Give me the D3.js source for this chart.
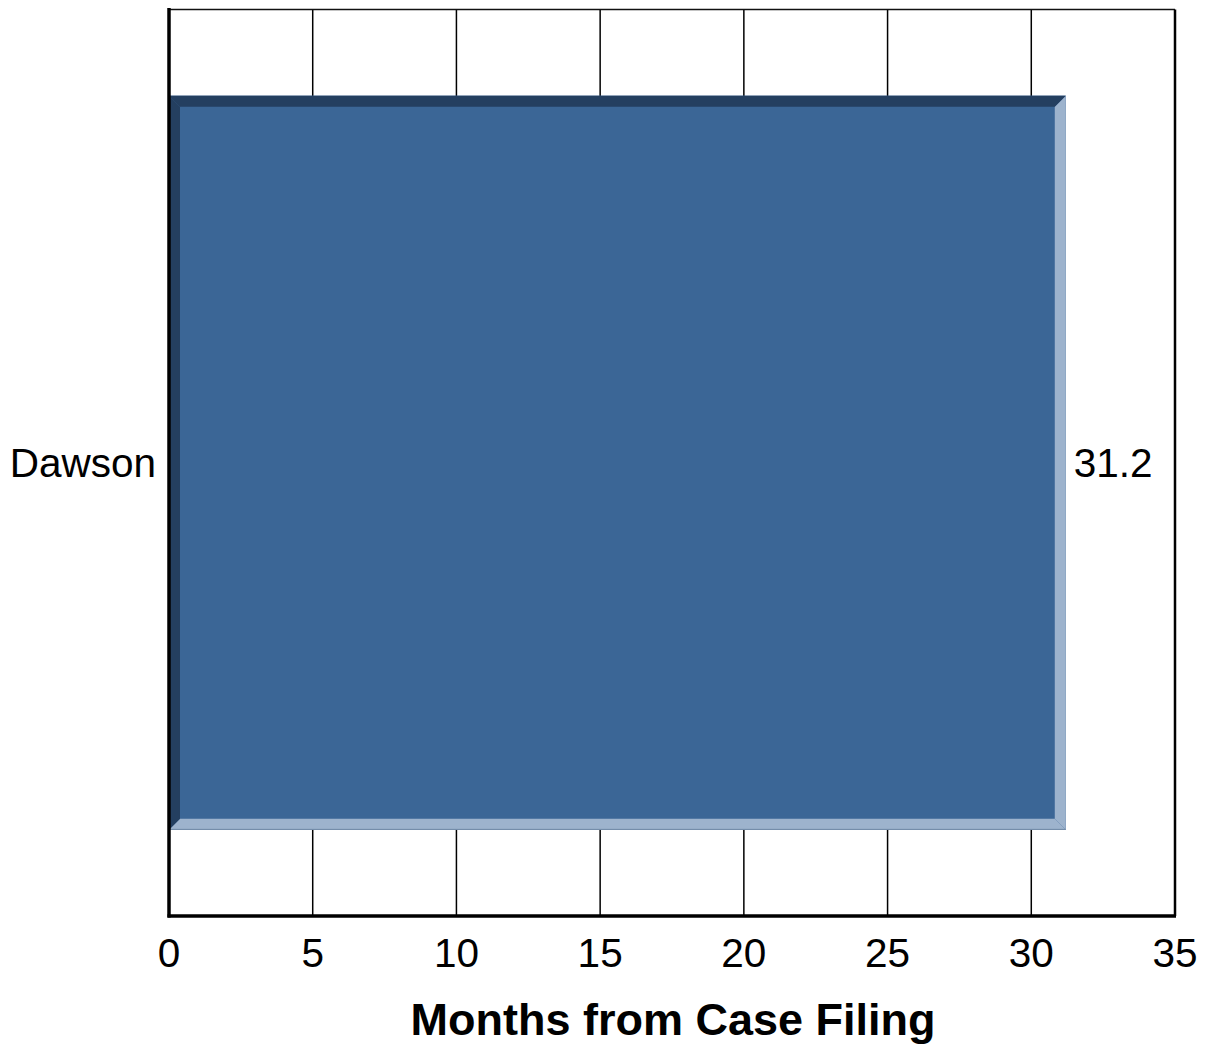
<!DOCTYPE html>
<html><head><meta charset="utf-8">
<script src="https://cdn.jsdelivr.net/npm/d3@7"></script>
<style>body{margin:0;background:#fff}svg{display:block}text{font-family:"Liberation Sans",Arial,sans-serif}</style>
</head><body><svg id="c" width="1207" height="1047"></svg>
<script>
const categories = ["Dawson"];
const values = [31.2];
const valueLabels = ["31.2"];
const xTicks = [0, 5, 10, 15, 20, 25, 30, 35];
const xTitle = "Months from Case Filing";

const svg = d3.select("#c");
const L = 169, R = 1175, T = 9.5, B = 916;
const x = d3.scaleLinear().domain([0, 35]).range([L, R]);
const y = d3.scaleBand().domain(categories).range([T, B]).paddingInner(0.105).paddingOuter(0.105);

// gridlines
svg.append("g").selectAll("line").data(xTicks.filter(t => t > 0 && t < 35)).join("line")
  .attr("x1", d => x(d)).attr("x2", d => x(d)).attr("y1", T).attr("y2", B)
  .attr("stroke", "#000").attr("stroke-width", 1.5);
// top border & right border
svg.append("line").attr("x1", L).attr("x2", R).attr("y1", T).attr("y2", T).attr("stroke", "#111").attr("stroke-width", 1.5);
svg.append("line").attr("x1", R).attr("x2", R).attr("y1", T).attr("y2", B).attr("stroke", "#000").attr("stroke-width", 2.5);

// bars with bevel
const d = 11;
const bars = svg.append("g").selectAll("g").data(categories).join("g");
bars.each(function(c, i) {
  const g = d3.select(this);
  const x0 = x(0), x1 = x(values[i]), y0 = y(c), y1 = y(c) + y.bandwidth();
  g.append("rect").attr("x", x0).attr("y", y0).attr("width", x1 - x0).attr("height", y1 - y0).attr("fill", "#3b6696");
  const poly = (pts, fill) => g.append("polygon").attr("points", pts.map(p => p.join(",")).join(" ")).attr("fill", fill);
  poly([[x0, y1], [x1, y1], [x1 - d, y1 - d], [x0 + d, y1 - d]], "#9db3cd");
  poly([[x1, y0], [x1, y1], [x1 - d, y1 - d], [x1 - d, y0 + d]], "#9db3cd");
  poly([[x0, y0], [x1, y0], [x1 - d, y0 + d], [x0 + d, y0 + d]], "#243f60");
  poly([[x0, y0], [x0 + d, y0 + d], [x0 + d, y1 - d], [x0, y1]], "#243f60");
  g.append("line").attr("x1", x0).attr("x2", x1).attr("y1", y1 - 0.5).attr("y2", y1 - 0.5).attr("stroke", "#7189a6").attr("stroke-width", 1);
  g.append("text").attr("x", x1 + 8).attr("y", (y0 + y1) / 2 + 14).attr("font-size", 40.5).attr("fill", "#000").text(valueLabels[i]);
  g.append("text").attr("x", 156).attr("y", (y0 + y1) / 2 + 14).attr("text-anchor", "end").attr("font-size", 40.5).attr("fill", "#000").text(c);
});

// axes lines
svg.append("line").attr("x1", L).attr("x2", L).attr("y1", T - 1.5).attr("y2", B + 1.5).attr("stroke", "#000").attr("stroke-width", 3.5);
svg.append("line").attr("x1", L - 1.5).attr("x2", R + 1).attr("y1", B).attr("y2", B).attr("stroke", "#000").attr("stroke-width", 3.5);

// tick labels
svg.append("g").selectAll("text").data(xTicks).join("text")
  .attr("x", t => x(t)).attr("y", 967).attr("text-anchor", "middle").attr("font-size", 40.5).text(t => t);

svg.append("text").attr("x", (413 + 933) / 2).attr("y", 1035).attr("text-anchor", "middle")
  .attr("font-size", 45).attr("font-weight", "bold").text(xTitle);
</script></body></html>
